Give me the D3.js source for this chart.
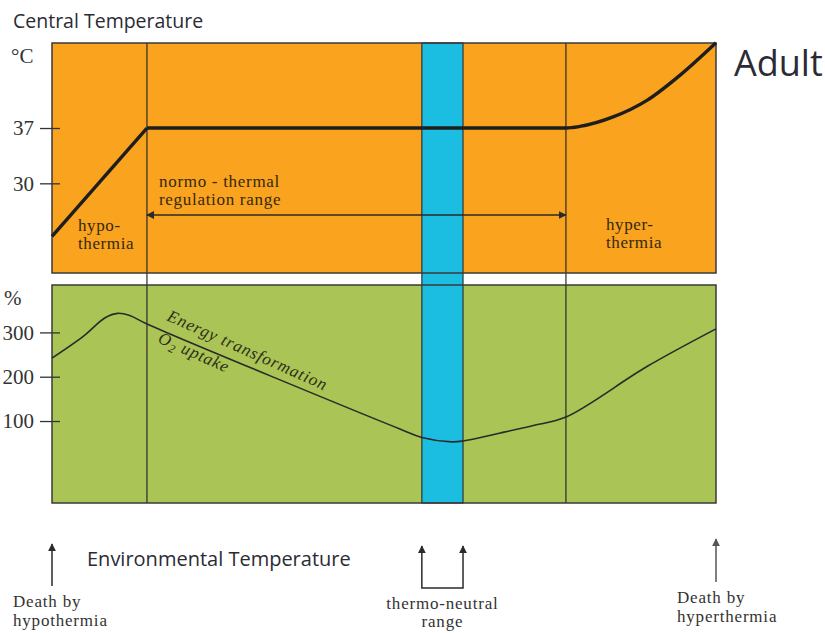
<!DOCTYPE html>
<html>
<head>
<meta charset="utf-8">
<script src="https://cdn.jsdelivr.net/npm/d3@7"></script>
<style>
  body { margin: 0; background: #fff; }
  .serif { font-family: "Liberation Serif", "DejaVu Serif", serif; }
  .sans { font-family: "Open Sans", "Noto Sans", sans-serif; }
</style>
</head>
<body>
<div id="chart"></div>
<script>
// Environmental temperature runs on an unitless 0..100 scale (left: death by hypothermia, right: death by hyperthermia)
const zoneBounds = [14.3, 77.4];          // normo-thermal regulation range
const thermoNeutral = [55.7, 61.9];       // blue band

// Central temperature (°C) vs environmental temperature
const centralEnv  = [0, 14.3, 77.4, 79.5, 84.5, 89.6, 94.6, 100];
const centralTemp = [23.3, 37, 37, 37.2, 38.4, 40.5, 43.7, 47.8];
const centralTicks = [30, 37];

// Energy transformation / O2 uptake (%) vs environmental temperature
const energyEnv = [0, 4.7, 8, 9.9, 11.7, 14.3, 52.4, 55.7, 60.2, 61.9, 67.5, 72.5, 77.4, 89.6, 100];
const energyPct = [242, 291, 333, 343, 338, 319, 82, 63, 53, 55, 73, 90, 109, 223, 308];
const energyTicks = [100, 200, 300];

const W = 825, H = 633;
const left = 52, right = 716;
const top1 = 43, bot1 = 273;   // central temperature panel
const top2 = 285, bot2 = 503;  // energy panel

const svg = d3.select("#chart").append("svg")
    .attr("width", W)
    .attr("height", H);

const defs = svg.append("defs");
function marker(id, color) {
    defs.append("marker")
        .attr("id", id)
        .attr("viewBox", "0 0 10 10")
        .attr("refX", 9).attr("refY", 5)
        .attr("markerWidth", 8).attr("markerHeight", 8)
        .attr("markerUnits", "userSpaceOnUse")
        .attr("orient", "auto-start-reverse")
        .append("path")
        .attr("d", "M0,0 L10,5 L0,10 z")
        .attr("fill", color);
}
marker("arrow", "#2a2a2a");
marker("arrowGray", "#555");

// scales
const x = d3.scaleLinear().domain([0, 100]).range([left, right]);
const yTemp = d3.scaleLinear().domain([18.65, 47.76]).range([bot1, top1]);
const yPct = d3.scaleLinear().domain([-85, 407]).range([bot2, top2]);

// panels
svg.append("rect")
    .attr("x", left).attr("y", top1)
    .attr("width", right - left).attr("height", bot1 - top1)
    .attr("fill", "#F9A31F");
svg.append("rect")
    .attr("x", left).attr("y", top2)
    .attr("width", right - left).attr("height", bot2 - top2)
    .attr("fill", "#AAC456");

// thermo-neutral band across both panels
svg.append("rect")
    .attr("x", x(thermoNeutral[0])).attr("y", top1)
    .attr("width", x(thermoNeutral[1]) - x(thermoNeutral[0]))
    .attr("height", bot2 - top1)
    .attr("fill", "#1BBDE0")
    .attr("stroke", "#333")
    .attr("stroke-width", 1.2);

// zone boundaries
svg.selectAll(".zone")
    .data(zoneBounds)
    .enter().append("line")
    .attr("x1", d => x(d)).attr("x2", d => x(d))
    .attr("y1", top1).attr("y2", bot2)
    .attr("stroke", "#2a2a2a")
    .attr("stroke-width", 1.2);

// panel borders
[[top1, bot1], [top2, bot2]].forEach(p => {
    svg.append("rect")
        .attr("x", left).attr("y", p[0])
        .attr("width", right - left).attr("height", p[1] - p[0])
        .attr("fill", "none")
        .attr("stroke", "#3a3a3a")
        .attr("stroke-width", 1.5);
});

// y axes (ticks crossing the left edge)
const axTemp = svg.append("g")
    .attr("transform", `translate(${left + 8},0)`)
    .call(d3.axisLeft(yTemp).tickValues(centralTicks).tickSize(20).tickPadding(6));
const axPct = svg.append("g")
    .attr("transform", `translate(${left + 8},0)`)
    .call(d3.axisLeft(yPct).tickValues(energyTicks).tickSize(20).tickPadding(6));
[axTemp, axPct].forEach(ax => {
    ax.select(".domain").remove();
    ax.selectAll(".tick line").attr("stroke", "#333").attr("stroke-width", 1.3);
    ax.selectAll(".tick text")
        .attr("class", "serif")
        .style("font-size", "21px")
        .attr("fill", "#333");
});

svg.append("text").attr("class", "serif")
    .attr("x", 11).attr("y", 63)
    .style("font-size", "21px").attr("fill", "#333")
    .text("°C");
svg.append("text").attr("class", "serif")
    .attr("x", 4).attr("y", 305)
    .style("font-size", "21px").attr("fill", "#333")
    .text("%");

// central temperature curve
const central = centralEnv.map((e, i) => ({ e: e, v: centralTemp[i] }));
svg.append("path")
    .datum(central.slice(0, 2))
    .attr("fill", "none")
    .attr("stroke", "#1e1e1e")
    .attr("stroke-width", 3.4)
    .attr("d", d3.line().x(d => x(d.e)).y(d => yTemp(d.v)));
svg.append("path")
    .datum(central.slice(1))
    .attr("fill", "none")
    .attr("stroke", "#1e1e1e")
    .attr("stroke-width", 3.4)
    .attr("stroke-linejoin", "round")
    .attr("d", d3.line().curve(d3.curveMonotoneX).x(d => x(d.e)).y(d => yTemp(d.v)));

// energy curve
const energy = energyEnv.map((e, i) => ({ e: e, v: energyPct[i] }));
svg.append("path")
    .datum(energy)
    .attr("fill", "none")
    .attr("stroke", "#2a2a2a")
    .attr("stroke-width", 1.6)
    .attr("d", d3.line().curve(d3.curveCatmullRom.alpha(0.5)).x(d => x(d.e)).y(d => yPct(d.v)));

// normo-thermal range arrow
svg.append("line")
    .attr("x1", x(zoneBounds[0])).attr("x2", x(zoneBounds[1]))
    .attr("y1", 215).attr("y2", 215)
    .attr("stroke", "#2a2a2a")
    .attr("stroke-width", 1.4)
    .attr("marker-start", "url(#arrow)")
    .attr("marker-end", "url(#arrow)");

// multi-line serif labels
function label(lines, xPos, yPos, size, anchor, color, lh, ls) {
    const t = svg.append("text").attr("class", "serif")
        .style("font-size", size + "px")
        .style("letter-spacing", (ls || 0) + "px")
        .attr("fill", color)
        .attr("text-anchor", anchor || "start");
    lines.forEach((s, i) => {
        t.append("tspan").attr("x", xPos).attr("y", yPos + i * lh).text(s);
    });
    return t;
}
label(["normo - thermal", "regulation range"], 159, 187, 17, "start", "#35290f", 18, 0.7);
label(["hypo-", "thermia"], 78, 231, 17, "start", "#35290f", 18, 0.6);
label(["hyper-", "thermia"], 606, 230, 17, "start", "#35290f", 18, 0.6);

// labels along the energy curve
const ang = Math.atan2(yPct(energyPct[6]) - yPct(energyPct[5]), x(energyEnv[6]) - x(energyEnv[5])) * 180 / Math.PI + 1.5;
svg.append("text").attr("class", "serif")
    .attr("transform", `translate(166,320) rotate(${ang})`)
    .style("font-size", "17px").style("font-style", "italic")
    .style("letter-spacing", "0.9px")
    .attr("fill", "#2e2e1a")
    .text("Energy transformation");
const o2 = svg.append("text").attr("class", "serif")
    .attr("transform", `translate(157,342) rotate(${ang})`)
    .style("font-size", "17px").style("font-style", "italic")
    .style("letter-spacing", "0.9px")
    .attr("fill", "#2e2e1a");
o2.append("tspan").text("O");
o2.append("tspan").attr("dy", 4).style("font-size", "12px").text("2");
o2.append("tspan").attr("dy", -4).text(" uptake");

// titles
svg.append("text").attr("class", "sans")
    .attr("x", 13).attr("y", 28)
    .style("font-size", "19.5px").attr("fill", "#2b2b35")
    .text("Central Temperature");
svg.append("text").attr("class", "sans")
    .attr("x", 734).attr("y", 76)
    .style("font-size", "36px").attr("fill", "#2b2b35")
    .text("Adult");
svg.append("text").attr("class", "sans")
    .attr("x", 87).attr("y", 566)
    .style("font-size", "20px").attr("fill", "#2b2b35")
    .text("Environmental Temperature");

// bottom arrows
svg.append("line")
    .attr("x1", x(0)).attr("x2", x(0))
    .attr("y1", 586).attr("y2", 544)
    .attr("stroke", "#2a2a2a").attr("stroke-width", 1.5)
    .attr("marker-end", "url(#arrow)");
svg.append("path")
    .attr("d", `M${x(thermoNeutral[0])},546 V588 H${x(thermoNeutral[1])} V546`)
    .attr("fill", "none")
    .attr("stroke", "#2a2a2a").attr("stroke-width", 1.5)
    .attr("marker-start", "url(#arrow)")
    .attr("marker-end", "url(#arrow)");
svg.append("line")
    .attr("x1", x(100)).attr("x2", x(100))
    .attr("y1", 582).attr("y2", 539)
    .attr("stroke", "#555").attr("stroke-width", 1.5)
    .attr("marker-end", "url(#arrowGray)");

label(["Death by", "hypothermia"], 13, 607, 17, "start", "#333", 19, 0.8);
label(["thermo-neutral", "range"], (x(thermoNeutral[0]) + x(thermoNeutral[1])) / 2, 609, 17, "middle", "#333", 18, 0.8);
label(["Death by", "hyperthermia"], 677, 603, 17, "start", "#333", 19, 0.8);
</script>
</body>
</html>
